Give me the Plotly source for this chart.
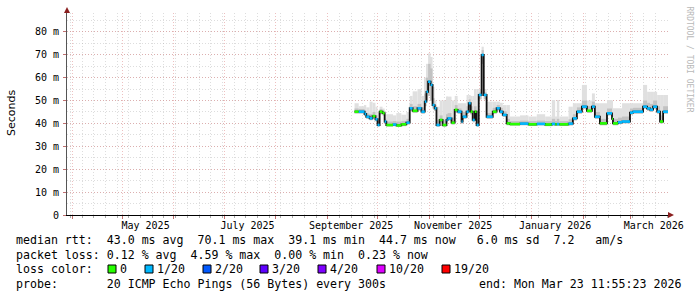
import plotly.graph_objects as go
import pandas as pd

# ---------------- data ----------------
seg_start = [
    "2025-09-17 00:00", "2025-09-19 12:00", "2025-09-23 00:00", "2025-09-24 00:00", "2025-09-26 00:00",
    "2025-09-27 18:00", "2025-09-29 12:00", "2025-09-30 18:00", "2025-10-02 00:00", "2025-10-03 18:00",
    "2025-10-05 00:00", "2025-10-06 00:00", "2025-10-10 00:00", "2025-10-12 00:00", "2025-10-15 00:00",
    "2025-10-18 00:00", "2025-10-20 00:00", "2025-10-21 18:00", "2025-10-24 16:00", "2025-10-27 00:00",
    "2025-10-29 00:00", "2025-10-30 00:00", "2025-10-31 00:00", "2025-11-01 12:00", "2025-11-02 16:00",
    "2025-11-03 22:00", "2025-11-05 00:00", "2025-11-06 22:00", "2025-11-08 16:00", "2025-11-11 00:00",
    "2025-11-11 16:00", "2025-11-14 00:00", "2025-11-15 22:00", "2025-11-17 16:00", "2025-11-20 00:00",
    "2025-11-20 16:00", "2025-11-23 00:00", "2025-11-24 07:00", "2025-11-25 12:00", "2025-11-26 16:00",
    "2025-11-27 22:00", "2025-11-29 00:00", "2025-11-30 07:00", "2025-12-02 00:00", "2025-12-03 07:00",
    "2025-12-05 00:00", "2025-12-08 16:00", "2025-12-11 00:00", "2025-12-12 22:00", "2025-12-14 16:00",
    "2025-12-17 00:00", "2025-12-18 22:00", "2025-12-25 00:00", "2025-12-30 00:00", "2026-01-04 00:00",
    "2026-01-09 00:00", "2026-01-13 00:00", "2026-01-15 00:00", "2026-01-16 00:00", "2026-01-17 12:00",
    "2026-01-23 00:00", "2026-01-25 14:00", "2026-01-28 00:00", "2026-01-31 00:00", "2026-02-03 00:00",
    "2026-02-06 00:00", "2026-02-07 18:00", "2026-02-10 18:00", "2026-02-15 00:00", "2026-02-18 00:00",
    "2026-02-18 14:00", "2026-02-21 14:00", "2026-02-24 00:00", "2026-02-28 18:00", "2026-03-02 14:00",
    "2026-03-08 14:00", "2026-03-11 00:00", "2026-03-12 18:00", "2026-03-14 14:00", "2026-03-17 00:00",
    "2026-03-18 18:00", "2026-03-20 14:00",
]
end_time = "2026-03-23 12:00"

median_ms = [
    45.1, 45.1, 44.1, 42.9, 42.2, 43.2, 41.8, 39.3, 45.1, 44.5,
    40.8, 39.3, 39.5, 39.1, 39.6, 40.3, 46.6, 45.5, 46.6, 45.1,
    49.5, 53.8, 58.2, 56.8, 48.0, 46.6, 39.3, 41.5, 39.3, 41.5,
    42.2, 40.3, 45.9, 45.1, 40.8, 42.9, 45.1, 48.8, 45.1, 41.5,
    45.1, 39.3, 52.4, 69.9, 52.4, 42.9, 45.1, 46.6, 45.1, 43.7,
    40.0, 39.7, 39.9, 39.6, 39.8, 39.5, 39.8, 39.6, 39.7, 39.6,
    39.9, 42.2, 45.1, 47.3, 45.5, 47.3, 42.9, 40.0, 44.4, 42.0,
    40.0, 40.5, 40.8, 44.7, 45.1, 47.3, 46.5, 46.0, 47.3, 45.1,
    40.8, 45.1,
]
loss_n = [
    0, 1, 1, 1, 1, 0, 1, 1, 0, 0,
    1, 0, 1, 0, 0, 1, 1, 0, 1, 1,
    1, 1, 1, 1, 1, 1, 1, 0, 0, 1,
    1, 0, 0, 1, 1, 1, 1, 1, 0, 1,
    0, 1, 1, 1, 1, 1, 0, 1, 1, 1,
    0, 0, 1, 0, 1, 0, 1, 0, 1, 0,
    1, 1, 1, 1, 0, 1, 1, 0, 1, 0,
    0, 1, 1, 1, 1, 1, 1, 1, 1, 1,
    0, 1,
]
smoke_lo = [
    44.3, 44.3, 43.2, 42.0, 41.4, 42.3, 40.9, 38.6, 44.0, 43.5,
    39.8, 38.6, 38.8, 38.5, 38.8, 39.5, 45.5, 44.6, 45.6, 44.2,
    47.5, 50.0, 52.0, 50.0, 46.5, 45.5, 38.5, 40.5, 38.5, 40.5,
    41.3, 39.5, 44.8, 44.2, 39.9, 42.0, 44.1, 47.0, 44.0, 40.5,
    44.0, 38.5, 50.5, 66.0, 50.5, 42.0, 44.2, 45.7, 44.2, 42.8,
    39.2, 39.0, 39.2, 38.9, 39.1, 38.8, 39.0, 38.9, 39.0, 38.9,
    39.1, 41.3, 44.2, 46.3, 44.6, 46.3, 42.0, 39.2, 43.5, 41.0,
    39.2, 39.7, 40.0, 43.8, 44.2, 46.3, 45.5, 45.0, 46.3, 44.2,
    40.0, 44.2,
]
smoke_mid = [
    46.5, 46.3, 45.5, 44.3, 44.0, 45.0, 43.5, 41.0, 46.2, 45.5,
    42.0, 40.8, 41.0, 40.8, 41.0, 42.0, 48.5, 47.5, 48.5, 47.0,
    53.0, 60.0, 66.0, 64.0, 51.0, 48.0, 41.5, 43.5, 41.5, 44.0,
    44.5, 42.5, 48.0, 46.5, 43.0, 45.0, 47.5, 50.5, 47.5, 44.0,
    47.5, 42.0, 53.5, 72.0, 53.5, 44.5, 46.8, 48.0, 46.8, 45.3,
    42.0, 41.0, 41.2, 41.0, 41.2, 41.0, 42.0, 41.0, 42.0, 41.0,
    41.8, 44.0, 47.0, 50.0, 47.5, 49.5, 45.0, 42.0, 46.5, 44.0,
    42.0, 42.5, 43.0, 46.5, 46.8, 50.0, 49.0, 48.5, 50.0, 47.5,
    43.5, 47.5,
]
smoke_hi = [
    48.8, 47.5, 48.0, 47.0, 49.5, 49.0, 47.3, 45.0, 47.3, 46.5,
    44.0, 44.0, 43.5, 44.5, 43.8, 45.0, 52.0, 54.0, 55.0, 52.0,
    60.0, 66.0, 70.6, 69.0, 56.0, 50.0, 47.3, 50.0, 50.0, 51.7,
    51.7, 50.0, 52.0, 48.8, 48.8, 48.8, 52.4, 52.4, 52.0, 52.0,
    55.0, 55.0, 55.0, 73.5, 55.0, 49.5, 49.5, 49.5, 49.0, 48.0,
    48.0, 43.0, 43.5, 43.0, 44.0, 43.0, 50.2, 43.0, 50.2, 43.0,
    47.3, 48.8, 48.8, 56.8, 50.0, 53.1, 48.8, 48.8, 50.2, 50.0,
    46.6, 46.6, 48.8, 48.8, 48.8, 56.8, 53.8, 53.8, 53.8, 52.4,
    52.4, 52.4,
]

loss_labels = ["0", "1/20", "2/20", "3/20", "4/20", "10/20", "19/20"]
loss_colors = ["#26ff00", "#00b8ff", "#0059ff", "#5e00ff", "#7e00ff", "#dd00ff", "#ff0000"]

y_ticks = [0, 10, 20, 30, 40, 50, 60, 70, 80]
y_ticktext = ["0", "10 m", "20 m", "30 m", "40 m", "50 m", "60 m", "70 m", "80 m"]
x_label_dates = ["2025-05-15", "2025-07-15", "2025-09-15", "2025-11-15", "2026-01-15", "2026-03-15"]
x_label_text = ["May 2025", "July 2025", "September 2025", "November 2025", "January 2026", "March 2026"]
x_range = ["2025-03-29 00:00", "2026-03-23 12:00"]

legend_lines = [
    "median rtt:  43.0 ms avg  70.1 ms max  39.1 ms min  44.7 ms now   6.0 ms sd  7.2   am/s",
    "packet loss: 0.12 % avg  4.59 % max  0.00 % min  0.23 % now",
    "loss color:",
    "probe:       20 ICMP Echo Pings (56 Bytes) every 300s",
]
end_text = "end: Mon Mar 23 11:55:23 2026"

# ---------------- figure ----------------
W, H = 697, 297
L, R, T, B = 67, 668, 13, 215
PW, PH = R - L, B - T


def px(x):
    return (x - L) / PW


def py(y):
    return (B - y) / PH


MONO = "DejaVu Sans Mono"
n = len(seg_start)
ts = pd.to_datetime(seg_start + [end_time])
widths = [(ts[i + 1] - ts[i]).total_seconds() * 1000 for i in range(n)]

fig = go.Figure()

# smoke: light band (min..max) and darker band (min..mid)
fig.add_trace(go.Bar(
    x=seg_start, base=smoke_lo, y=[h - l for h, l in zip(smoke_hi, smoke_lo)],
    width=widths, offset=0, marker=dict(color="#e0e0e0", line=dict(width=0)),
    hoverinfo="skip", showlegend=False))
fig.add_trace(go.Bar(
    x=seg_start, base=smoke_lo, y=[m - l for m, l in zip(smoke_mid, smoke_lo)],
    width=widths, offset=0, marker=dict(color="#c2c2c2", line=dict(width=0)),
    hoverinfo="skip", showlegend=False))

# median: dark step line
fig.add_trace(go.Scatter(
    x=seg_start + [end_time], y=median_ms + [median_ms[-1]],
    mode="lines", line=dict(color="#111111", width=1.8, shape="hv"),
    hoverinfo="skip", showlegend=False))

# coloured median segments by loss
for k in sorted(set(loss_n)):
    xs, ys = [], []
    for i in range(n):
        if loss_n[i] == k:
            xs += [seg_start[i], str(ts[i + 1]), None]
            ys += [median_ms[i], median_ms[i], None]
    fig.add_trace(go.Scatter(
        x=xs, y=ys, mode="lines", line=dict(color=loss_colors[k], width=2.6),
        hoverinfo="skip", showlegend=False))

# dummy trace for label axis
fig.add_trace(go.Scatter(x=[x_range[0]], y=[None], xaxis="x2", mode="markers",
                         showlegend=False, hoverinfo="skip"))

MAJ = "rgba(220,130,130,0.5)"
MIN = "rgba(170,170,170,0.4)"

fig.update_layout(
    width=W, height=H,
    margin=dict(l=L, r=W - R, t=T, b=H - B, pad=0),
    paper_bgcolor="white", plot_bgcolor="white",
    barmode="overlay", showlegend=False,
    xaxis=dict(
        type="date", range=x_range,
        tick0="2025-04-01", dtick="M1",
        showgrid=True, gridcolor=MAJ, griddash="1px,2px", gridwidth=1,
        minor=dict(tick0="2025-03-31", dtick=7 * 86400000, showgrid=True,
                   gridcolor=MIN, griddash="1px,2px", gridwidth=1,
                   ticks="outside", ticklen=2, tickcolor="#aaaaaa"),
        ticks="outside", ticklen=3, tickcolor="#c07070",
        showticklabels=False,
        showline=True, linecolor="black", linewidth=1,
        zeroline=False, fixedrange=True,
    ),
    xaxis2=dict(
        type="date", range=x_range, overlaying="x", anchor="y", side="bottom",
        tickmode="array", tickvals=x_label_dates, ticktext=x_label_text,
        showgrid=False, ticks="", showline=False, zeroline=False,
        tickfont=dict(family=MONO, size=10, color="black"),
        ticklabelstandoff=3,
    ),
    yaxis=dict(
        range=[0, 88.2],
        tickmode="array", tickvals=y_ticks, ticktext=y_ticktext,
        showgrid=True, gridcolor=MAJ, griddash="1px,2px", gridwidth=1,
        minor=dict(dtick=5, tick0=0, showgrid=True, gridcolor=MIN,
                   griddash="1px,2px", gridwidth=1),
        ticks="outside", ticklen=3, tickcolor="#c07070",
        tickfont=dict(family=MONO, size=10, color="black"),
        ticklabelstandoff=2,
        showline=True, linecolor="#555555", linewidth=1,
        zeroline=False, fixedrange=True,
    ),
)

# axis arrows
fig.add_shape(type="path", xref="x domain", yref="y domain",
              xsizemode="pixel", ysizemode="pixel", xanchor=0, yanchor=1,
              path="M -3,0 L 3,0 L 0,6 Z", fillcolor="#8b2020", line=dict(width=0))
fig.add_shape(type="path", xref="x domain", yref="y domain",
              xsizemode="pixel", ysizemode="pixel", xanchor=1, yanchor=0,
              path="M 0,-3 L 0,3 L 6,0 Z", fillcolor="#8b2020", line=dict(width=0))

ann = []
# y title
ann.append(dict(xref="paper", yref="paper", x=px(11), y=py(113), text="Seconds",
                textangle=-90, showarrow=False, xanchor="center", yanchor="middle",
                font=dict(family="DejaVu Sans", size=11, color="black")))
# watermark
ann.append(dict(xref="paper", yref="paper", x=px(688.5), y=py(59),
                text="RRDTOOL / TOBI OETIKER", textangle=90, showarrow=False,
                xanchor="center", yanchor="middle",
                font=dict(family=MONO, size=8, color="#b8b8b8")))

line_y = [240, 254.5, 269, 283.5]
for txt, yy in zip(legend_lines, line_y):
    ann.append(dict(xref="paper", yref="paper", x=px(16), y=py(yy),
                    text=txt.replace(" ", "\u00a0"), showarrow=False,
                    xanchor="left", yanchor="middle", borderpad=0, borderwidth=0,
                    font=dict(family=MONO, size=11.6, color="black")))
ann.append(dict(xref="paper", yref="paper", x=px(681), y=py(283.5),
                text=end_text.replace(" ", "\u00a0"), showarrow=False,
                xanchor="right", yanchor="middle", borderpad=0, borderwidth=0,
                font=dict(family=MONO, size=11.6, color="black")))

box_left = [108, 145, 203, 260, 318, 377, 442]
for bl, lab, col in zip(box_left, loss_labels, loss_colors):
    fig.add_shape(type="rect", xref="paper", yref="paper",
                  x0=px(bl), x1=px(bl + 8), y0=py(273), y1=py(265),
                  fillcolor=col, line=dict(color="black", width=1))
    ann.append(dict(xref="paper", yref="paper", x=px(bl + 12), y=py(269),
                    text=lab, showarrow=False, xanchor="left", yanchor="middle",
                    borderpad=0, borderwidth=0,
                    font=dict(family=MONO, size=11.6, color="black")))

fig.update_layout(annotations=ann)
fig.write_html("out.html")
